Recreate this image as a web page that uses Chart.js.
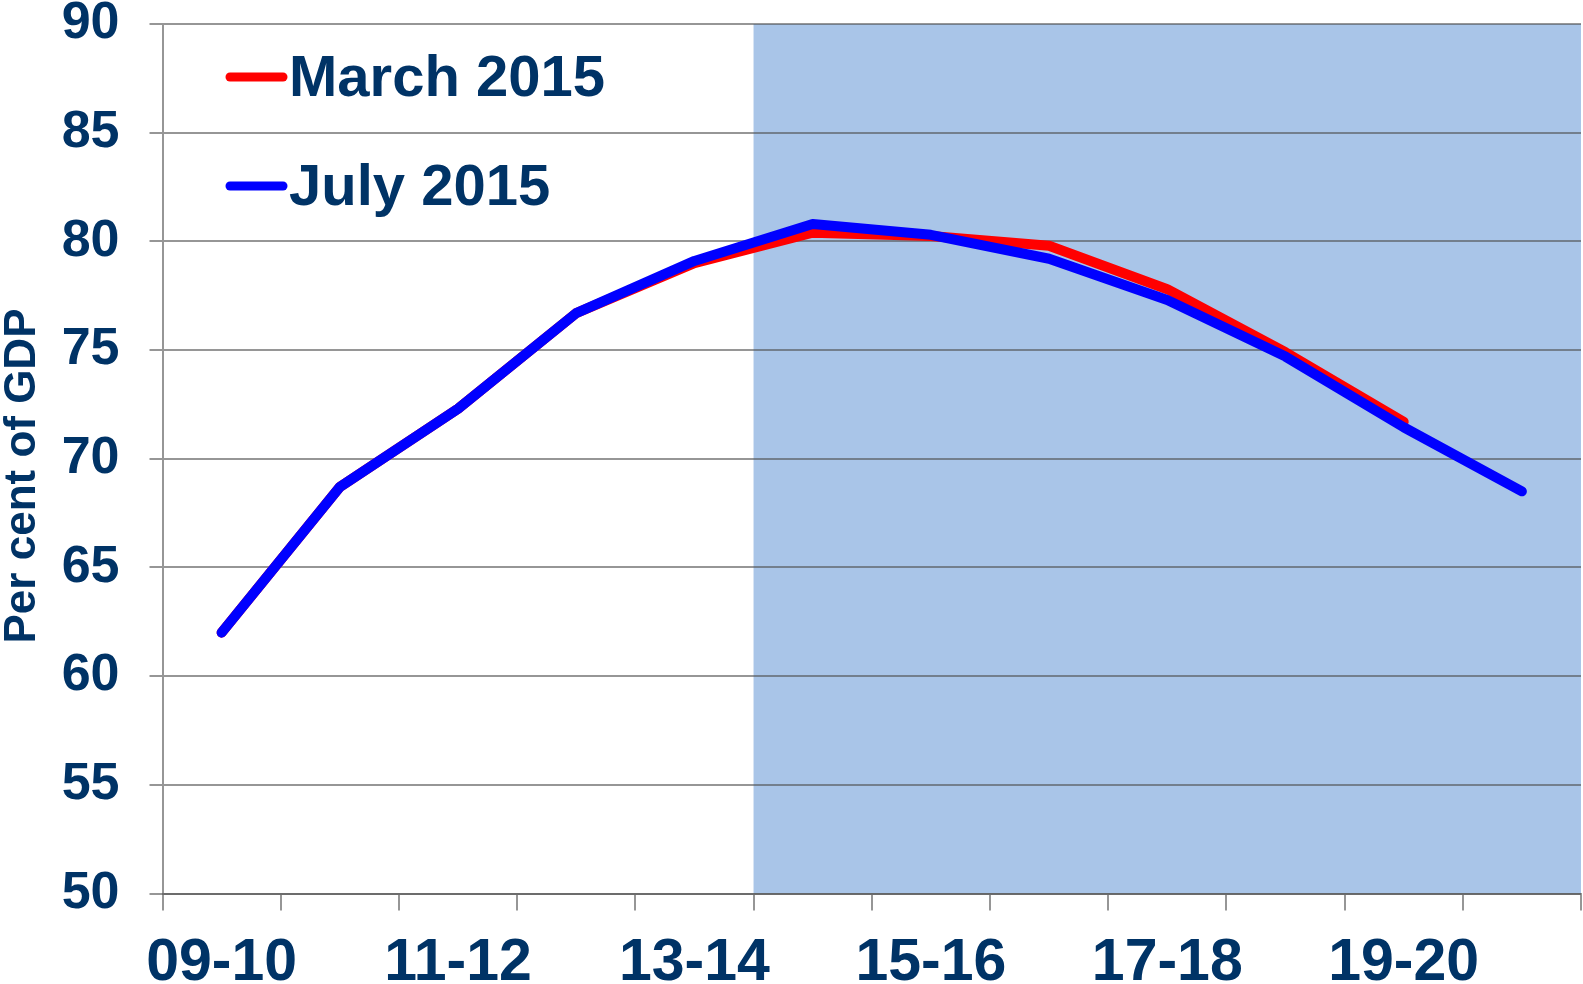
<!doctype html>
<html lang="en">

<head>
    <meta charset="utf-8">
    <title>Public sector net debt</title>
    <script src="https://cdn.jsdelivr.net/npm/chart.js@4.4.0/dist/chart.umd.min.js"></script>
    <style>
        html, body { margin: 0; padding: 0; background: #ffffff; }
        #wrap { width: 1583px; height: 984px; }
    </style>
</head>

<body>
    <div id="wrap"><canvas id="debtChart" width="1583" height="984"></canvas></div>

    <script>
        // financial years
        const years = ['09-10', '10-11', '11-12', '12-13', '13-14', '14-15', '15-16',
            '16-17', '17-18', '18-19', '19-20', '20-21'];

        // per cent of GDP
        const march2015 = [62.0, 68.7, 72.3, 76.7, 79.0, 80.4, 80.25, 79.8, 77.8, 74.9, 71.7, null];
        const july2015 = [62.0, 68.7, 72.3, 76.7, 79.1, 80.8, 80.3, 79.2, 77.3, 74.7, 71.45, 68.5];

        const yTicks = [50, 55, 60, 65, 70, 75, 80, 85, 90];

        // forecast period is shaded from this year onwards
        const forecastFrom = '14-15';

        const navy = '#003366';
        const fontFamily = "'Liberation Sans', Arial, sans-serif";
        const gridColor = 'rgba(80,80,80,0.6)';

        const forecastShade = {
            id: 'forecastShade',
            beforeDraw(chart) {
                const { ctx, chartArea, scales } = chart;
                const x0 = scales.x.getPixelForValue(years.indexOf(forecastFrom) - 0.5);
                ctx.save();
                ctx.fillStyle = '#a9c5e8';
                ctx.fillRect(x0, chartArea.top, chartArea.right - x0, chartArea.bottom - chartArea.top);
                ctx.restore();
            }
        };

        // legend inside the plot and the rotated axis title
        const annotations = {
            id: 'annotations',
            afterDraw(chart) {
                const ctx = chart.ctx;
                const items = [
                    { text: 'March 2015', color: '#ff0000', y: 77 },
                    { text: 'July 2015', color: '#0000ff', y: 186 }
                ];
                ctx.save();
                items.forEach(item => {
                    ctx.strokeStyle = item.color;
                    ctx.lineWidth = 9;
                    ctx.lineCap = 'round';
                    ctx.beginPath();
                    ctx.moveTo(230, item.y);
                    ctx.lineTo(283, item.y);
                    ctx.stroke();
                    ctx.fillStyle = navy;
                    ctx.font = 'bold 58px ' + fontFamily;
                    ctx.textBaseline = 'middle';
                    ctx.textAlign = 'left';
                    ctx.fillText(item.text, 289, item.y + 3);
                });

                ctx.translate(23, 476);
                ctx.rotate(-Math.PI / 2);
                ctx.font = 'bold 44px ' + fontFamily;
                ctx.textAlign = 'center';
                ctx.textBaseline = 'middle';
                ctx.fillStyle = navy;
                ctx.fillText('Per cent of GDP', 0, 0);
                ctx.restore();
            }
        };

        const data = {
            labels: years,
            datasets: [
                {
                    label: 'July 2015',
                    data: july2015,
                    borderColor: '#0000ff',
                    order: 0,
                },
                {
                    label: 'March 2015',
                    data: march2015,
                    borderColor: '#ff0000',
                    order: 1,
                }
            ]
        };

        const config = {
            type: 'line',
            data: data,
            plugins: [forecastShade, annotations],
            options: {
                responsive: false,
                animation: false,
                layout: { padding: { left: 0, right: 2, top: 0, bottom: 0 } },
                plugins: {
                    legend: { display: false },
                    tooltip: { enabled: false },
                },
                elements: {
                    point: { radius: 0 },
                    line: {
                        borderWidth: 10,
                        tension: 0,
                        fill: false,
                        borderCapStyle: 'round',
                        borderJoinStyle: 'round',
                    }
                },
                scales: {
                    x: {
                        offset: true,
                        afterFit: s => { s.height = 90.5; s.paddingLeft = 0; s.paddingRight = 0; },
                        grid: {
                            offset: true,
                            drawOnChartArea: false,
                            drawTicks: true,
                            tickLength: 17,
                            color: gridColor,
                            lineWidth: 2,
                        },
                        border: { color: gridColor, width: 2 },
                        ticks: {
                            autoSkip: false,
                            maxRotation: 0,
                            padding: 24,
                            color: navy,
                            font: { family: fontFamily, size: 59, weight: 'bold', lineHeight: 1 },
                            callback: (v, i) => (i % 2 === 0 ? years[i] : ''),
                        }
                    },
                    y: {
                        min: yTicks[0],
                        max: yTicks[yTicks.length - 1],
                        afterFit: s => { s.width = 162.5; s.paddingTop = 24; s.paddingBottom = 0; },
                        afterBuildTicks: s => { s.ticks = yTicks.map(v => ({ value: v })); },
                        grid: {
                            color: gridColor,
                            lineWidth: 2,
                            tickLength: 13,
                        },
                        border: { color: gridColor, width: 2 },
                        ticks: {
                            padding: 30,
                            color: navy,
                            font: { family: fontFamily, size: 52, weight: 'bold', lineHeight: 1 },
                        }
                    }
                },
            }
        };

        new Chart(document.getElementById('debtChart'), config);
    </script>
</body>

</html>
